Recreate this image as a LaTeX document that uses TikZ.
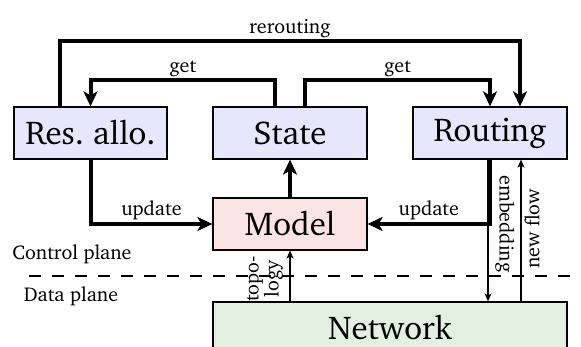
\documentclass[tikz,border=0pt]{standalone}
\usepackage[T1]{fontenc}
\usepackage{charter}
\usetikzlibrary{arrows.meta}

\definecolor{modfill}{RGB}{230,230,252}
\definecolor{mdlfill}{RGB}{253,228,228}
\definecolor{netfill}{RGB}{227,240,225}

\tikzset{
  block/.style={draw=black, line width=1.2pt, minimum height=52pt, inner sep=0pt,
    font=\fontsize{33}{38}\selectfont},
  bigflow/.style={line width=4pt, -{Stealth[length=15pt,width=14pt,inset=4pt]}},
  smallflow/.style={line width=1.2pt, -{Stealth[length=8pt,width=7pt,inset=2pt]}},
  lbl/.style={font=\fontsize{20}{24}\selectfont, inner sep=2pt},
  sidelbl/.style={font=\fontsize{20}{17}\selectfont, inner sep=0pt, align=center},
  planeline/.style={line width=1.2pt, dash pattern=on 12pt off 11pt}
}

\begin{document}
\begin{tikzpicture}[x=1pt, y=1pt]
  \useasboundingbox (0,0) rectangle (581,347);
  \clip (0,0) rectangle (581,347);

  % control-plane modules
  \node[block, fill=modfill, minimum width=153pt] (res) at (90.5,214) {Res.\ allo.};
  \node[block, fill=modfill, minimum width=154pt] (state) at (290,214) {State};
  \node[block, fill=modfill, minimum width=154pt] (rout) at (490,214) {Routing};
  \node[block, fill=mdlfill, minimum width=154pt] (model) at (290,123) {Model};
  % data plane
  \node[block, fill=netfill, minimum width=354pt] (net) at (390,19) {Network};

  % plane separator
  \coordinate (sepL) at (29,71);
  \coordinate (sepR) at (581,71);
  \draw[planeline] (sepL) -- (sepR);
  \node[lbl] (ctl) at (72,93) {Control plane};
  \node[lbl] (dat) at (71,51) {Data plane};

  % rerouting: resource allocation -> routing
  \draw[bigflow] ([xshift=-30.5pt]res.north) -- ++(0,65)
      -| node[pos=0.25, above, lbl] {rerouting} ([xshift=30pt]rout.north);
  % get: state -> resource allocation
  \draw[bigflow] ([xshift=-15pt]state.north) -- ++(0,26)
      -| node[pos=0.25, above, lbl] {get} (res.north);
  % get: state -> routing
  \draw[bigflow] ([xshift=15pt]state.north) -- ++(0,26)
      -| node[pos=0.25, above, lbl] {get} (rout.north);
  % update: resource allocation -> model
  \draw[bigflow] (res.south) |- node[pos=0.75, above, lbl] {update} (model.west);
  % update: routing -> model
  \draw[bigflow] (rout.south) |- node[pos=0.75, above, lbl] {update} (model.east);
  % model -> state
  \draw[bigflow] (model.north) -- (state.south);

  % data-plane interaction
  \coordinate (embtop) at ([xshift=-2pt]rout.south);
  \coordinate (nftop) at ([xshift=31pt]rout.south);
  \draw[smallflow] (net.north -| model.south) -- (model.south);
  \draw[smallflow] (embtop) -- (embtop |- net.north);
  \draw[smallflow] (nftop |- net.north) -- (nftop);

  % rotated labels of the data-plane links
  \node[sidelbl, rotate=90] (topo) at (265,68) {topo-\\logy};
  \node[sidelbl, rotate=-90] (emb) at (505,123) {embedding};
  \node[sidelbl, rotate=90] (nf) at (532,118) {new flow};
\end{tikzpicture}
\end{document}
